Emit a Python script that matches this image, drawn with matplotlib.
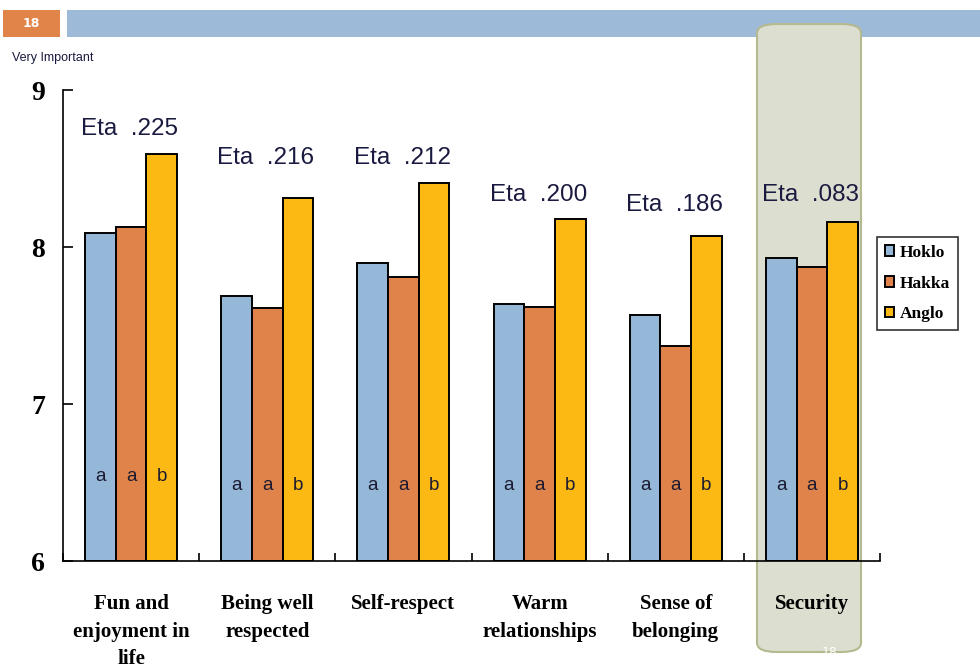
import matplotlib
matplotlib.use("Agg")
import matplotlib.pyplot as plt
from matplotlib.patches import FancyBboxPatch, Rectangle
import numpy as np

categories = ["Fun and\nenjoyment in\nlife", "Being well\nrespected", "Self-respect",
              "Warm\nrelationships", "Sense of\nbelonging", "Security"]
groups = ["Hoklo", "Hakka", "Anglo"]
hoklo = [8.09, 7.69, 7.90, 7.64, 7.57, 7.93]
hakka = [8.13, 7.61, 7.81, 7.62, 7.37, 7.87]
anglo = [8.59, 8.31, 8.41, 8.18, 8.07, 8.16]
eta_labels = ["Eta  .225", "Eta  .216", "Eta  .212", "Eta  .200", "Eta  .186", "Eta  .083"]
eta_y = [8.75, 8.57, 8.57, 8.33, 8.27, 8.33]
sig_letters = [["a", "a", "b"]] * 6
sig_y = [6.54, 6.48, 6.48, 6.48, 6.48, 6.48]
colors = ["#95b8d8", "#e0834a", "#fdb913"]

fig = plt.figure(figsize=(9.8, 6.71), dpi=100)
W, H = 980, 671

# header bars
fig.patches.append(Rectangle((3 / W, 1 - 37 / H), 57 / W, 27 / H, transform=fig.transFigure,
                             facecolor="#e0844a", edgecolor="none", zorder=0))
fig.patches.append(Rectangle((67 / W, 1 - 37 / H), (W - 67) / W, 27 / H, transform=fig.transFigure,
                             facecolor="#9dbbd8", edgecolor="none", zorder=0))
fig.text(31 / W, 1 - 23.5 / H, "18", color="white", fontsize=9, fontweight="bold",
         ha="center", va="center", family="DejaVu Sans")
fig.text(12 / W, 1 - 58 / H, "Very Important", color="#1a1a40", fontsize=9,
         ha="left", va="center", family="Liberation Sans")

# highlight box
fig.patches.append(FancyBboxPatch((757 / W, 1 - 652 / H), 104 / W, 628 / H,
                                  boxstyle="round,pad=0,rounding_size=0.02",
                                  transform=fig.transFigure, facecolor="#dcded0",
                                  edgecolor="#b5b98f", linewidth=1.5, zorder=0.5,
                                  mutation_aspect=H / W))
fig.text(830 / W, 1 - 652 / H, "18", color="white", fontsize=9, ha="center", va="center")

ax = fig.add_axes([63 / W, 1 - 561 / H, (880 - 63) / W, (561 - 90) / H])
ax.set_zorder(1)
ax.patch.set_visible(False)

x = np.arange(len(categories))
bw = 0.225
for i, (vals, c) in enumerate(zip([hoklo, hakka, anglo], colors)):
    ax.bar(x + (i - 1) * bw, np.array(vals) - 6, bottom=6, width=bw, color=c,
           edgecolor="black", linewidth=1.4, label=groups[i])
    for j in range(len(categories)):
        ax.text(x[j] + (i - 1) * bw, sig_y[j], sig_letters[j][i], ha="center", va="center",
                fontsize=13.5, color="#1a1a30", family="Liberation Sans")

for j in range(len(categories)):
    ax.text(x[j] - 0.01, eta_y[j], eta_labels[j], ha="center", va="center", fontsize=17.5,
            color="#1a1a40", family="Liberation Sans")

ax.set_xlim(-0.5, len(categories) - 0.5)
ax.set_ylim(6, 9)
ax.set_yticks([6, 7, 8, 9])
ax.set_yticklabels(["6", "7", "8", "9"], fontsize=20, fontweight="bold", family="Liberation Serif")
ax.tick_params(axis="y", direction="in", length=7, width=1.2, pad=13)
ax.set_xticks(np.arange(len(categories) + 1) - 0.5, minor=True)
ax.set_xticks(x)
ax.set_xticklabels(categories, fontsize=15, fontweight="bold", family="Liberation Serif",
                   linespacing=1.5, va="top")
ax.tick_params(axis="x", which="major", length=0, pad=24)
ax.tick_params(axis="x", which="minor", direction="in", length=6, width=1.2)
for s in ["top", "right"]:
    ax.spines[s].set_visible(False)
ax.spines["left"].set_linewidth(1.2)
ax.spines["bottom"].set_linewidth(1.2)

leg = ax.legend(loc="upper left", bbox_to_anchor=(877 / W, 1 - 237 / H),
                bbox_transform=fig.transFigure, frameon=True, fancybox=False,
                borderaxespad=0, edgecolor="black", handlelength=0.55, handleheight=0.55,
                handletextpad=0.3, borderpad=0.45, labelspacing=0.85,
                prop={"family": "Liberation Serif", "weight": "bold", "size": 12.5})
leg.get_frame().set_linewidth(1.2)

fig.savefig("out.png", dpi=100)
